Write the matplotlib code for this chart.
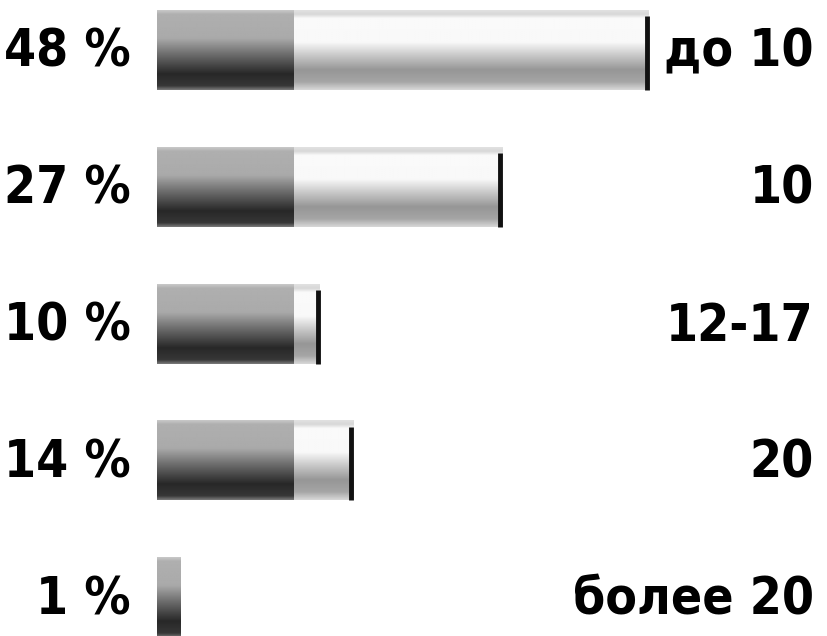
import numpy as np
import matplotlib
matplotlib.use("Agg")
import matplotlib.pyplot as plt

# data
shares = [48, 27, 10, 14, 1]                        # labels on the left, %
groups = ["до 10", "10", "12-17", "20", "более 20"]  # labels on the right
drawn_len = [48.2, 33.8, 15.9, 19.2, 2.3]           # bar length as drawn (same units as 48 %)
base_len = 13.4                                     # dark front part of every bar

plt.rcParams['font.family'] = ['DejaVu Sans']

fig = plt.figure(figsize=(8.27, 6.36), dpi=100)
ax = fig.add_axes([0, 0, 1, 1])
ax.set_xlim(-15.4, 65.7)
ax.set_ylim(4.28, -0.365)
ax.axis('off')

bar_h = 0.58


def profile(stops, vals, n=120):
    # vertical grey ramp used to shade the tubes
    t = np.linspace(0, 1, n)
    g = np.interp(t, stops, vals) / 255.0
    return np.repeat(g[:, None], 4, axis=1)


dark_prof = profile([0, 0.05, 0.35, 0.55, 0.8, 0.95, 1.0],
                    [200, 175, 170, 110, 40, 55, 120])
light_prof = profile([0, 0.05, 0.1, 0.4, 0.55, 0.75, 0.9, 1.0],
                     [225, 215, 250, 248, 205, 150, 165, 215])

txt = dict(fontsize=37, fontweight='bold', fontstretch='condensed', color='black')

for i, (val, L) in enumerate(zip(shares, drawn_len)):
    top, bot = i - bar_h / 2, i + bar_h / 2
    d = min(L, base_len)
    ax.imshow(dark_prof, cmap='gray', vmin=0, vmax=1, aspect='auto',
              extent=(0, d, bot, top), interpolation='bilinear', zorder=2)
    if L > base_len:
        ax.imshow(light_prof, cmap='gray', vmin=0, vmax=1, aspect='auto',
                  extent=(base_len, L, bot, top), interpolation='bilinear', zorder=2)
        # dark rim at the far end of the tube
        ax.vlines(L - 0.15, top + 0.04, bot, color='#111111', lw=3.5, zorder=3)

    ax.text(-2.6, i + 0.02, f"{val} %", ha='right', va='center', **txt)
    ax.text(64.4, i + 0.02, groups[i], ha='right', va='center', **txt)

fig.savefig("out.png", dpi=100)
